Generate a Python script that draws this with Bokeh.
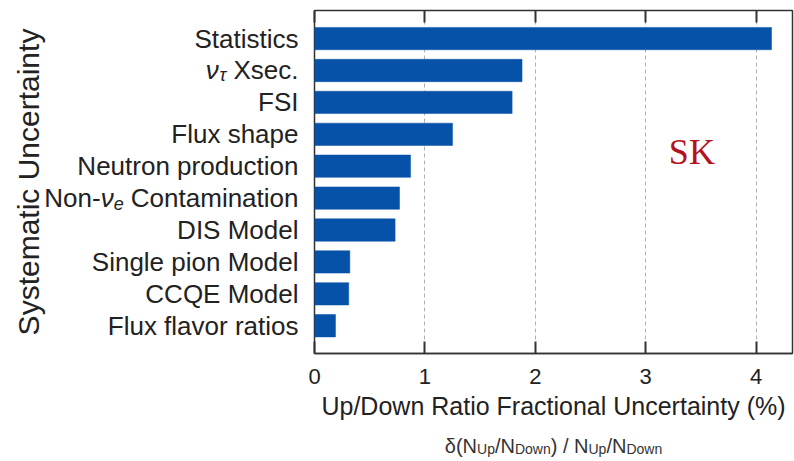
import math
from bokeh.plotting import figure
from bokeh.models import Range1d, FixedTicker, Label, LinearAxis, ColumnDataSource
from bokeh.layouts import row, column
from bokeh.core.properties import value
from bokeh.embed import file_html
from bokeh.resources import INLINE

# ---------------- data ----------------
categories = ["Statistics", "ντ Xsec.", "FSI", "Flux shape", "Neutron production",
              "Non-νe Contamination", "DIS Model", "Single pion Model",
              "CCQE Model", "Flux flavor ratios"]
values = [4.14, 1.88, 1.79, 1.25, 0.87, 0.77, 0.73, 0.32, 0.31, 0.19]
x_ticks = [0, 1, 2, 3, 4]
x_label = "Up/Down Ratio Fractional Uncertainty (%)"
y_label = "Systematic Uncertainty"
tag = "SK"
tag_pos = (3.21, 6.43)

# rich-text pieces for labels that need Greek letters with subscripts
# (text, size, italic, subscript)
rich_labels = {
    "ντ Xsec.": [("ν", 26, True, False), ("τ", 18, True, True), (" Xsec.", 26, False, False)],
    "Non-νe Contamination": [("Non-", 26, False, False), ("ν", 26, True, False),
                             ("e", 18, True, True), (" Contamination", 26, False, False)],
}
subtitle = [("δ(N", 20, False, False), ("Up", 14, False, True), ("/N", 20, False, False),
            ("Down", 14, False, True), (") / N", 20, False, False), ("Up", 14, False, True),
            ("/N", 20, False, False), ("Down", 14, False, True)]

# Arial / Liberation Sans advance widths (per 1000 em)
W = {' ': 278, '-': 333, '.': 278, '/': 278, '(': 333, ')': 333, '%': 889,
     'C': 722, 'D': 722, 'N': 722, 'U': 722, 'X': 667,
     'a': 556, 'c': 500, 'e': 556, 'i': 222, 'm': 833, 'n': 556, 'o': 556,
     'p': 556, 's': 500, 't': 278, 'w': 722,
     'ν': 500, 'τ': 420, 'δ': 556}


def tw(s, size):
    return sum(W.get(ch, 556) for ch in s) * size / 1000.0


FONT = "Liberation Sans"
TXT = "#222222"
BAR = "#0652a8"

n = len(categories)
ypos = [n - i for i in range(n)]
yr = Range1d(0.13, 10.88)

TOP, FRAME_H, BOT = 10, 343, 80
MAIN_L, FRAME_W, MAIN_R = 12, 478, 2
LEFT_W = 302

# ---------------- main plot ----------------
p = figure(width=MAIN_L + FRAME_W + MAIN_R, height=TOP + FRAME_H + BOT,
           output_backend="svg", toolbar_location=None,
           x_range=Range1d(0, 4.33), y_range=yr, y_axis_location=None,
           min_border_left=MAIN_L, min_border_right=MAIN_R,
           min_border_top=TOP, min_border_bottom=BOT)
p.background_fill_color = "white"
p.border_fill_color = "white"
p.outline_line_color = "#333333"
p.outline_line_width = 1.5
for g in p.grid:
    if g.dimension == 1:
        g.visible = False

p.hbar(y=ypos, right=values, left=0, height=0.7, fill_color=BAR, line_color=BAR, line_width=0.5)

ax = p.xaxis[0]
ax.ticker = FixedTicker(ticks=x_ticks)
ax.minor_tick_line_color = None
ax.major_tick_in = 12
ax.major_tick_out = 0
ax.major_tick_line_width = 2
ax.major_tick_line_color = "#333333"
ax.axis_line_color = "#333333"
ax.axis_line_width = 1.5
ax.major_label_text_font = FONT
ax.major_label_text_font_size = "22px"
ax.major_label_text_color = TXT
ax.major_label_standoff = 15
ax.axis_label = x_label
ax.axis_label_text_font = FONT
ax.axis_label_text_font_size = "25px"
ax.axis_label_text_font_style = "normal"
ax.axis_label_text_color = TXT
ax.axis_label_standoff = 5

top = LinearAxis(ticker=FixedTicker(ticks=x_ticks),
                 major_label_overrides={t: "" for t in x_ticks})
top.minor_tick_line_color = None
top.major_tick_in = 12
top.major_tick_out = 0
top.major_tick_line_width = 2
top.major_tick_line_color = "#333333"
top.axis_line_color = None
top.major_label_standoff = 0
top.major_label_text_font_size = "1px"
p.add_layout(top, "above")

p.xgrid.grid_line_dash = "4 3"
p.xgrid.grid_line_color = "#b0b0b0"
p.xgrid.grid_line_width = 1

p.add_layout(Label(x=tag_pos[0], y=tag_pos[1], text=tag,
                   text_align="left", text_baseline="middle",
                   text_font="Liberation Serif", text_font_size="36px",
                   text_color="#b3131c"))

# ---------------- left panel: category labels + y title ----------------
lp = figure(width=LEFT_W, height=TOP + FRAME_H + BOT, output_backend="svg",
            toolbar_location=None, x_range=Range1d(0, LEFT_W), y_range=yr,
            x_axis_location=None, y_axis_location=None,
            min_border_left=0, min_border_right=0,
            min_border_top=TOP, min_border_bottom=BOT)
lp.outline_line_color = None
for g in lp.grid:
    g.visible = False

RIGHT = LEFT_W - 4
cols = dict(x=[], y=[], text=[], size=[], style=[], yoff=[])
for cat, y in zip(categories, ypos):
    pieces = rich_labels.get(cat, [(cat, 26, False, False)])
    r = RIGHT
    for text, size, ital, sub in reversed(pieces):
        cols["x"].append(r)
        cols["y"].append(y)
        cols["text"].append(text.strip())
        cols["size"].append(f"{size}px")
        cols["style"].append("italic" if ital else "normal")
        cols["yoff"].append(5 if sub else 0)
        r -= tw(text, size)
src = ColumnDataSource(cols)
lp.text(x="x", y="y", text="text", source=src, text_font=value(FONT),
        text_font_size="size", text_font_style="style", y_offset="yoff",
        text_align="right", text_baseline="middle", text_color=TXT)

lp.text(x=[28], y=[(yr.start + yr.end) / 2], text=[y_label], angle=math.pi / 2,
        text_font=value(FONT), text_font_size=value("30px"), text_align="center",
        text_baseline="middle", text_color=TXT)

# ---------------- bottom strip: subtitle ----------------
BH = 461 - (TOP + FRAME_H + BOT)
TOTAL_W = LEFT_W + MAIN_L + FRAME_W + MAIN_R
bp = figure(width=TOTAL_W, height=BH, output_backend="svg", toolbar_location=None,
            x_range=Range1d(0, TOTAL_W), y_range=Range1d(BH, 0),
            x_axis_location=None, y_axis_location=None,
            min_border_left=0, min_border_right=0, min_border_top=0, min_border_bottom=0)
bp.outline_line_color = None
for g in bp.grid:
    g.visible = False

center = LEFT_W + MAIN_L + FRAME_W / 2
total = sum(tw(t, s) for t, s, _, _ in subtitle)
xx = center - total / 2
sc = dict(x=[], y=[], text=[], size=[])
for text, size, ital, sub in subtitle:
    sc["x"].append(xx)
    sc["y"].append(15.5 if sub else 12)
    sc["text"].append(text)
    sc["size"].append(f"{size}px")
    xx += tw(text, size)
bp.text(x="x", y="y", text="text", source=ColumnDataSource(sc), text_font=value(FONT),
        text_font_size="size", text_align="left", text_baseline="middle",
        text_color="#333333")

layout = column(row(lp, p, spacing=0), bp, spacing=0)
open("out.html", "w").write(file_html(layout, INLINE))
